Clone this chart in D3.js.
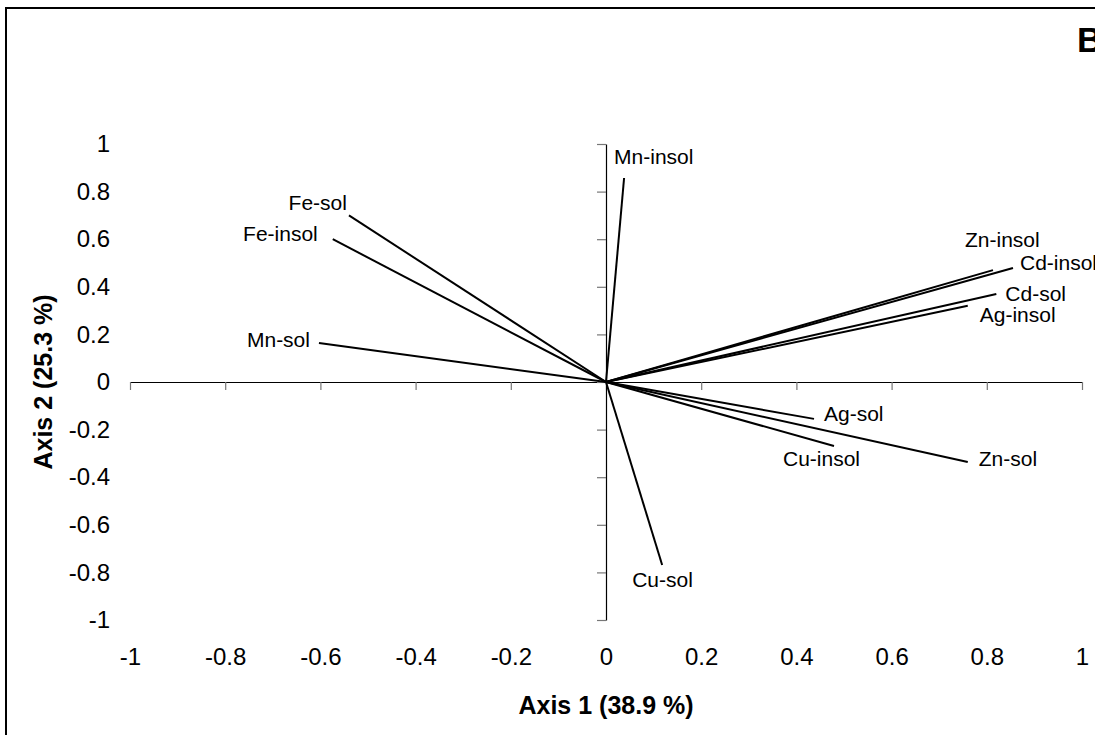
<!DOCTYPE html>
<html>
<head>
<meta charset="utf-8">
<script src="https://cdn.jsdelivr.net/npm/d3@7"></script>
<style>
  html, body { margin: 0; padding: 0; background: #fff; }
  svg { display: block; font-family: Arial, "Liberation Sans", sans-serif; }
</style>
</head>
<body>
<div id="c_plot"></div>
<script>
// loadings on the two first axes
var variables = ["Mn-insol", "Fe-sol", "Fe-insol", "Mn-sol", "Zn-insol", "Cd-insol",
  "Cd-sol", "Ag-insol", "Ag-sol", "Cu-insol", "Zn-sol", "Cu-sol"];
var axis1 = [0.038, -0.54, -0.574, -0.603, 0.813, 0.855, 0.82, 0.76, 0.437, 0.479, 0.76, 0.118];
var axis2 = [0.857, 0.70, 0.60, 0.164, 0.47, 0.479, 0.37, 0.32, -0.155, -0.269, -0.336, -0.769];
var ticks = [-1, -0.8, -0.6, -0.4, -0.2, 0, 0.2, 0.4, 0.6, 0.8, 1];

// label placement (pixels from the arrow tip), anchor
var labelPos = {
  "Mn-insol": [-10, -21, "start"],
  "Fe-sol": [-2, -13, "end"],
  "Fe-insol": [-15, -6, "end"],
  "Mn-sol": [-9, -3, "end"],
  "Zn-insol": [-28, -30, "start"],
  "Cd-insol": [7, -5, "start"],
  "Cd-sol": [9, 0, "start"],
  "Ag-insol": [12, 9, "start"],
  "Ag-sol": [10, -5, "start"],
  "Cu-insol": [-51, 13, "start"],
  "Zn-sol": [11, -3, "start"],
  "Cu-sol": [-30, 15, "start"]
};

var W = 1095, H = 735;

var svg = d3.select("#c_plot").append("svg")
  .attr("width", W)
  .attr("height", H);

// frame
svg.append("rect")
  .attr("x", 6).attr("y", 8)
  .attr("width", W + 20).attr("height", H + 20)
  .attr("fill", "none")
  .attr("stroke", "#000")
  .attr("stroke-width", 2);

var x = d3.scaleLinear().domain([-1, 1]).range([130, 1082]);
var y = d3.scaleLinear().domain([-1, 1]).range([620, 144]);

// axes through the origin, ticks only
var gx = svg.append("g")
  .attr("transform", "translate(0," + y(0) + ")")
  .call(d3.axisBottom(x).tickValues(ticks).tickSize(8).tickSizeOuter(0).tickFormat(""));
var gy = svg.append("g")
  .attr("transform", "translate(" + x(0) + ",0)")
  .call(d3.axisLeft(y).tickValues(ticks).tickSize(9).tickSizeOuter(0).tickFormat(""));
[gx, gy].forEach(function(g) {
  g.select(".domain").attr("stroke", "#000").attr("stroke-width", 1.2);
  g.selectAll(".tick line").attr("stroke", "#777").attr("stroke-width", 1.2);
});

// tick labels at the low side
var fmt = function(d) { return String(d); };
svg.append("g")
  .attr("transform", "translate(" + x(-1) + ",0)")
  .call(d3.axisLeft(y).tickValues(ticks).tickSize(0).tickPadding(20).tickFormat(fmt))
  .call(function(g) { g.select(".domain").remove(); })
  .selectAll("text")
  .attr("font-size", 24)
  .attr("font-family", "Arial, 'Liberation Sans', sans-serif")
  .attr("fill", "#000");

svg.append("g")
  .attr("transform", "translate(0," + y(-1) + ")")
  .call(d3.axisBottom(x).tickValues(ticks).tickSize(0).tickPadding(28).tickFormat(fmt))
  .call(function(g) { g.select(".domain").remove(); })
  .selectAll("text")
  .attr("font-size", 24)
  .attr("font-family", "Arial, 'Liberation Sans', sans-serif")
  .attr("fill", "#000");

// vectors
var data = variables.map(function(v, i) {
  return { name: v, a1: axis1[i], a2: axis2[i] };
});

svg.append("g").selectAll("line")
  .data(data)
  .enter().append("line")
  .attr("x1", x(0)).attr("y1", y(0))
  .attr("x2", d => x(d.a1))
  .attr("y2", d => y(d.a2))
  .attr("stroke", "#000")
  .attr("stroke-width", 2);

svg.append("g").selectAll("text")
  .data(data)
  .enter().append("text")
  .attr("x", d => x(d.a1) + labelPos[d.name][0])
  .attr("y", d => y(d.a2) + labelPos[d.name][1])
  .attr("dy", "0.35em")
  .attr("text-anchor", d => labelPos[d.name][2])
  .attr("font-size", 21)
  .text(d => d.name);

// axis titles
svg.append("text")
  .attr("x", x(0)).attr("y", 705)
  .attr("dy", "0.35em")
  .attr("text-anchor", "middle")
  .attr("font-size", 25)
  .attr("font-weight", "bold")
  .text("Axis 1 (38.9 %)");

svg.append("text")
  .attr("transform", "translate(43," + y(0) + ") rotate(-90)")
  .attr("dy", "0.35em")
  .attr("text-anchor", "middle")
  .attr("font-size", 25)
  .attr("font-weight", "bold")
  .text("Axis 2 (25.3 %)");

svg.append("text")
  .attr("x", 1077).attr("y", 52)
  .attr("font-size", 35)
  .attr("font-weight", "bold")
  .text("B");
</script>
</body>
</html>
